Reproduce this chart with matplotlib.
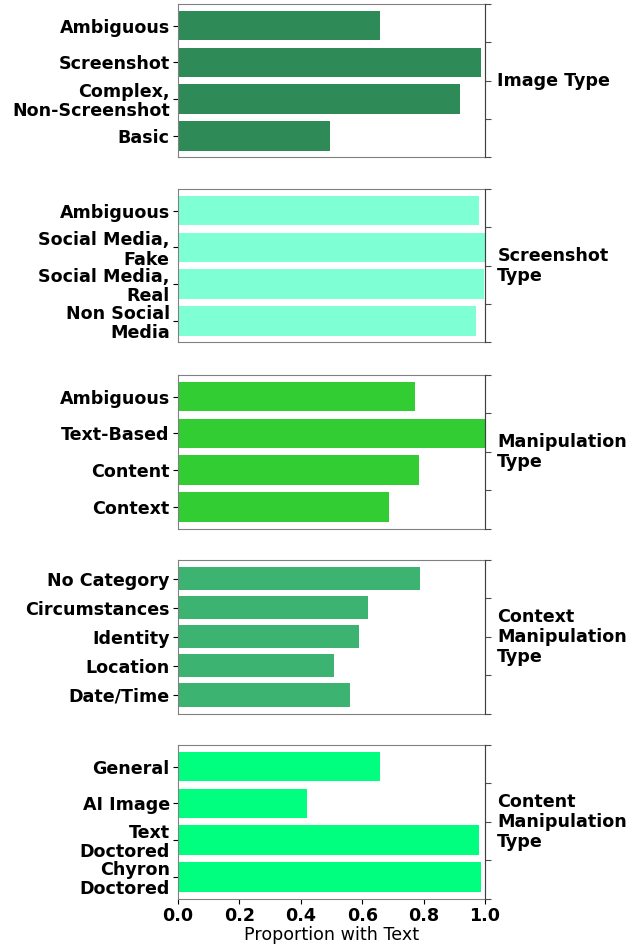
import matplotlib
matplotlib.use("Agg")
import matplotlib.pyplot as plt

# Data (top-to-bottom order within each panel)
img_cats = ["Ambiguous", "Screenshot", "Complex,\nNon-Screenshot", "Basic"]
img_vals = [0.657, 0.988, 0.919, 0.494]

shot_cats = ["Ambiguous", "Social Media,\nFake", "Social Media,\nReal", "Non Social\nMedia"]
shot_vals = [0.982, 1.0, 0.997, 0.971]

manip_cats = ["Ambiguous", "Text-Based", "Content", "Context"]
manip_vals = [0.771, 1.0, 0.784, 0.688]

ctx_cats = ["No Category", "Circumstances", "Identity", "Location", "Date/Time"]
ctx_vals = [0.789, 0.620, 0.589, 0.509, 0.561]

cont_cats = ["General", "AI Image", "Text\nDoctored", "Chyron\nDoctored"]
cont_vals = [0.659, 0.419, 0.979, 0.988]

panel_titles = ["Image Type", "Screenshot\nType", "Manipulation\nType",
                "Context\nManipulation\nType", "Content\nManipulation\nType"]
colors = ["#2E8B57", "#7FFFD4", "#32CD32", "#3CB371", "#00FF7F"]

x_ticks = [0.0, 0.2, 0.4, 0.6, 0.8, 1.0]
x_tick_labels = ["0.0", "0.2", "0.4", "0.6", "0.8", "1.0"]

panels = [(img_cats, img_vals), (shot_cats, shot_vals), (manip_cats, manip_vals),
          (ctx_cats, ctx_vals), (cont_cats, cont_vals)]

W, H = 639, 947
fig = plt.figure(figsize=(W / 100, H / 100), dpi=100)
fs = 12.6

left_px, right_px = 178, 485
tops = [4, 189, 375, 560, 745]
ph = 153.5

for i, ((cats, vals), title, col) in enumerate(zip(panels, panel_titles, colors)):
    top = tops[i]
    ax = fig.add_axes([left_px / W, 1 - (top + ph) / H, (right_px - left_px) / W, ph / H])
    y = list(range(len(cats)))
    ax.barh(y, vals, height=0.8, color=col, edgecolor="none")
    ax.set_yticks(y)
    ax.set_yticklabels(cats, fontsize=fs, fontweight="bold", linespacing=1.08)
    ax.tick_params(axis="y", pad=2.5)
    ax.invert_yaxis()
    ax.set_xlim(0, 1)
    for s in ax.spines.values():
        s.set_color("0.5")
    ax2 = ax.twinx()
    ax2.set_ylim(0, 1)
    ax2.set_yticks([0, 0.25, 0.5, 0.75, 1.0])
    ax2.set_yticklabels([])
    ax2.tick_params(axis="y", length=4, color="0.3")
    ax2.spines["right"].set_color("0.25")
    for k in ["left", "top", "bottom"]:
        ax2.spines[k].set_visible(False)
    ax2.set_ylabel(title, rotation=0, ha="left", va="center", fontsize=fs,
                   fontweight="bold", linespacing=1.13)
    ax2.yaxis.set_label_coords(1.04, 0.5)
    ax.set_xticks(x_ticks)
    if i < 4:
        ax.tick_params(axis="x", bottom=False, labelbottom=False)
    else:
        ax.set_xticklabels(x_tick_labels, fontsize=fs, fontweight="bold")
        ax.tick_params(axis="x", pad=2.5)
        ax.set_xlabel("Proportion with Text", fontsize=fs, labelpad=1)

fig.savefig("out.png", dpi=100)
